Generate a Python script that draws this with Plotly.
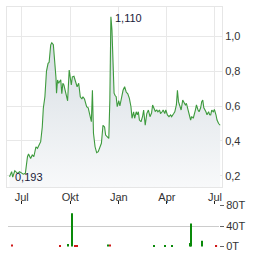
import plotly.graph_objects as go

price_dates = [
    "2023-06-08", "2023-06-12", "2023-06-14", "2023-06-18", "2023-06-23", "2023-06-27",
    "2023-07-04", "2023-07-08", "2023-07-12", "2023-07-14", "2023-07-18", "2023-07-21",
    "2023-07-24", "2023-07-28", "2023-07-31", "2023-08-03", "2023-08-06", "2023-08-09",
    "2023-08-11", "2023-08-14", "2023-08-17", "2023-08-20", "2023-08-22", "2023-08-25",
    "2023-08-27", "2023-08-30", "2023-09-02", "2023-09-04", "2023-09-05", "2023-09-07",
    "2023-09-09", "2023-09-11", "2023-09-13", "2023-09-15", "2023-09-17", "2023-09-19",
    "2023-09-21", "2023-09-23", "2023-09-26", "2023-09-29", "2023-10-03", "2023-10-05",
    "2023-10-08", "2023-10-11", "2023-10-14", "2023-10-17", "2023-10-20", "2023-10-23",
    "2023-10-25", "2023-10-28", "2023-11-01", "2023-11-04", "2023-11-07", "2023-11-10",
    "2023-11-12", "2023-11-13", "2023-11-14", "2023-11-17", "2023-11-20", "2023-11-23",
    "2023-11-26", "2023-11-29", "2023-12-02", "2023-12-05", "2023-12-07", "2023-12-10",
    "2023-12-13", "2023-12-15", "2023-12-17", "2023-12-19", "2023-12-21", "2023-12-23",
    "2023-12-25", "2023-12-27", "2023-12-29", "2024-01-01", "2024-01-03", "2024-01-06",
    "2024-01-09", "2024-01-12", "2024-01-15", "2024-01-18", "2024-01-21", "2024-01-24",
    "2024-01-26", "2024-01-29", "2024-01-31", "2024-02-03", "2024-02-05", "2024-02-07",
    "2024-02-09", "2024-02-12", "2024-02-15", "2024-02-17", "2024-02-20", "2024-02-23",
    "2024-02-26", "2024-02-29", "2024-03-03", "2024-03-05", "2024-03-08", "2024-03-10",
    "2024-03-13", "2024-03-15", "2024-03-18", "2024-03-20", "2024-03-23", "2024-03-25",
    "2024-03-28", "2024-03-30", "2024-04-02", "2024-04-05", "2024-04-08", "2024-04-10",
    "2024-04-14", "2024-04-16", "2024-04-19", "2024-04-21", "2024-04-23", "2024-04-25",
    "2024-04-28", "2024-05-01", "2024-05-03", "2024-05-06", "2024-05-08", "2024-05-11",
    "2024-05-13", "2024-05-16", "2024-05-18", "2024-05-21", "2024-05-25", "2024-05-27",
    "2024-05-30", "2024-06-01", "2024-06-04", "2024-06-06", "2024-06-08", "2024-06-10",
    "2024-06-14", "2024-06-16", "2024-06-19", "2024-06-21", "2024-06-23", "2024-06-25",
    "2024-06-28", "2024-06-30", "2024-07-03", "2024-07-05", "2024-07-08", "2024-07-11",
]
price_values = [
    0.196, 0.225, 0.193, 0.230, 0.215, 0.225,
    0.210, 0.215, 0.310, 0.326, 0.300, 0.320,
    0.310, 0.367, 0.358, 0.377, 0.396, 0.480,
    0.587, 0.653, 0.800, 0.844, 0.850, 0.950,
    0.962, 0.950, 0.850, 0.760, 0.673, 0.749,
    0.730, 0.740, 0.750, 0.670, 0.730, 0.720,
    0.690, 0.663, 0.630, 0.806, 0.720, 0.767,
    0.770, 0.740, 0.710, 0.730, 0.653, 0.640,
    0.653, 0.640, 0.596, 0.590, 0.549, 0.510,
    0.690, 0.560, 0.444, 0.367, 0.333, 0.339,
    0.367, 0.387, 0.490, 0.480, 0.434, 0.425,
    0.415, 0.634, 1.110, 1.034, 0.825, 0.673,
    0.660, 0.653, 0.596, 0.630, 0.600, 0.653,
    0.690, 0.710, 0.680, 0.670, 0.644, 0.596,
    0.530, 0.567, 0.530, 0.567, 0.550, 0.567,
    0.520, 0.510, 0.540, 0.577, 0.490, 0.557,
    0.577, 0.539, 0.560, 0.606, 0.577, 0.570,
    0.577, 0.567, 0.577, 0.557, 0.567, 0.577,
    0.557, 0.577, 0.549, 0.539, 0.549, 0.539,
    0.557, 0.567, 0.606, 0.690, 0.625, 0.600,
    0.577, 0.634, 0.625, 0.606, 0.615, 0.577,
    0.560, 0.520, 0.540, 0.530, 0.577, 0.606,
    0.577, 0.567, 0.590, 0.625, 0.634, 0.590,
    0.567, 0.550, 0.567, 0.550, 0.549, 0.577,
    0.567, 0.580, 0.550, 0.520, 0.500, 0.490,
]

volume_dates = [
    "2023-06-13", "2023-09-12", "2023-09-27", "2023-10-04", "2023-10-11",
    "2023-10-14", "2023-12-12", "2023-12-15", "2024-03-08", "2024-03-29",
    "2024-04-11", "2024-05-14", "2024-05-16", "2024-06-06", "2024-07-04",
]
volume_values = [4, 3, 5, 65, 2, 2, 4, 4, 2, 2, 2, 7, 45, 11, 2]
volume_up = [False, False, True, True, False, False, True, False, True, True,
             True, True, True, True, False]

x_tick_vals = ["2023-07-01", "2023-10-01", "2024-01-01", "2024-04-01", "2024-07-01"]
x_tick_text = ["Jul", "Okt", "Jan", "Apr", "Jul"]
y_tick_vals = [0.2, 0.4, 0.6, 0.8, 1.0]
vol_tick_vals = [0, 40, 80]
vol_tick_text = ["0T", "40T", "80T"]

FONT = "Liberation Sans, Arial, sans-serif"

i_max = max(range(len(price_values)), key=lambda i: price_values[i])
i_min = min(range(len(price_values)), key=lambda i: price_values[i])

fig = go.Figure()
fig.add_trace(go.Scatter(
    x=price_dates, y=price_values, mode="lines",
    line=dict(color="#3d9a3d", width=1.1),
    fill="tozeroy",
    fillgradient=dict(type="vertical", start=0.137, stop=1.0,
                      colorscale=[[0, "rgb(248,249,250)"], [1, "rgb(214,221,227)"]]),
    xaxis="x", yaxis="y", hoverinfo="skip",
))
fig.add_trace(go.Bar(
    x=volume_dates, y=volume_values,
    marker=dict(color=["#0a8a0a" if u else "#d01818" for u in volume_up], line=dict(width=0)),
    width=86400000 * 2.2,
    xaxis="x2", yaxis="y2", hoverinfo="skip",
))

fig.add_annotation(x=price_dates[i_max], y=price_values[i_max], xref="x", yref="y",
                   text=f"{price_values[i_max]:.3f}".replace(".", ","), showarrow=False,
                   xanchor="left", yanchor="middle", xshift=2, yshift=-1,
                   font=dict(family=FONT, size=11, color="#1a1a3a"))
fig.add_annotation(x=price_dates[i_min], y=price_values[i_min], xref="x", yref="y",
                   text=f"{price_values[i_min]:.3f}".replace(".", ","), showarrow=False,
                   xanchor="left", yanchor="middle", xshift=0, yshift=0,
                   font=dict(family=FONT, size=11, color="#1a1a3a"))

fig.update_layout(
    template="none",
    width=264, height=255,
    margin=dict(l=7, r=42, t=7, b=8, pad=0, autoexpand=False),
    paper_bgcolor="white", plot_bgcolor="white",
    showlegend=False,
    separators=",.",
    font=dict(family=FONT, size=11, color="#333"),
    xaxis=dict(
        domain=[0, 1], anchor="y", type="date", automargin=False,
        range=["2023-06-03 05:00", "2024-07-14 10:00"],
        tickvals=x_tick_vals, ticktext=x_tick_text, ticks="",
        showgrid=True, gridcolor="#e8e8e8", gridwidth=1,
        showline=True, linecolor="#e6e6e6", mirror=True, zeroline=False,
        tickfont=dict(size=11, color="#333"),
    ),
    yaxis=dict(
        domain=[0.25, 1], anchor="x", side="right", automargin=False,
        range=[0.137, 1.166],
        tickvals=y_tick_vals, tickformat=".1f", ticks="",
        showgrid=True, gridcolor="#e8e8e8", gridwidth=1,
        showline=True, linecolor="#e6e6e6", mirror=True, zeroline=False,
        tickfont=dict(size=11, color="#333"),
    ),
    xaxis2=dict(
        domain=[1 / 215, 212 / 215], anchor="y2", type="date", side="top", automargin=False,
        range=["2023-06-05 02:00", "2024-07-08 17:00"],
        tickvals=x_tick_vals, showticklabels=False,
        ticks="outside", ticklen=3, tickcolor="#222", tickwidth=1,
        showgrid=False, showline=False, zeroline=False,
    ),
    yaxis2=dict(
        domain=[0, 42 / 240], anchor="x2", side="right", automargin=False,
        range=[-1, 81],
        tickvals=vol_tick_vals, ticktext=vol_tick_text,
        ticks="outside", ticklen=4, tickcolor="#666",
        showgrid=True, gridcolor="#cccccc", gridwidth=1,
        showline=False, zeroline=False,
        tickfont=dict(size=11, color="#333"),
    ),
)

fig.write_html("out.html")
